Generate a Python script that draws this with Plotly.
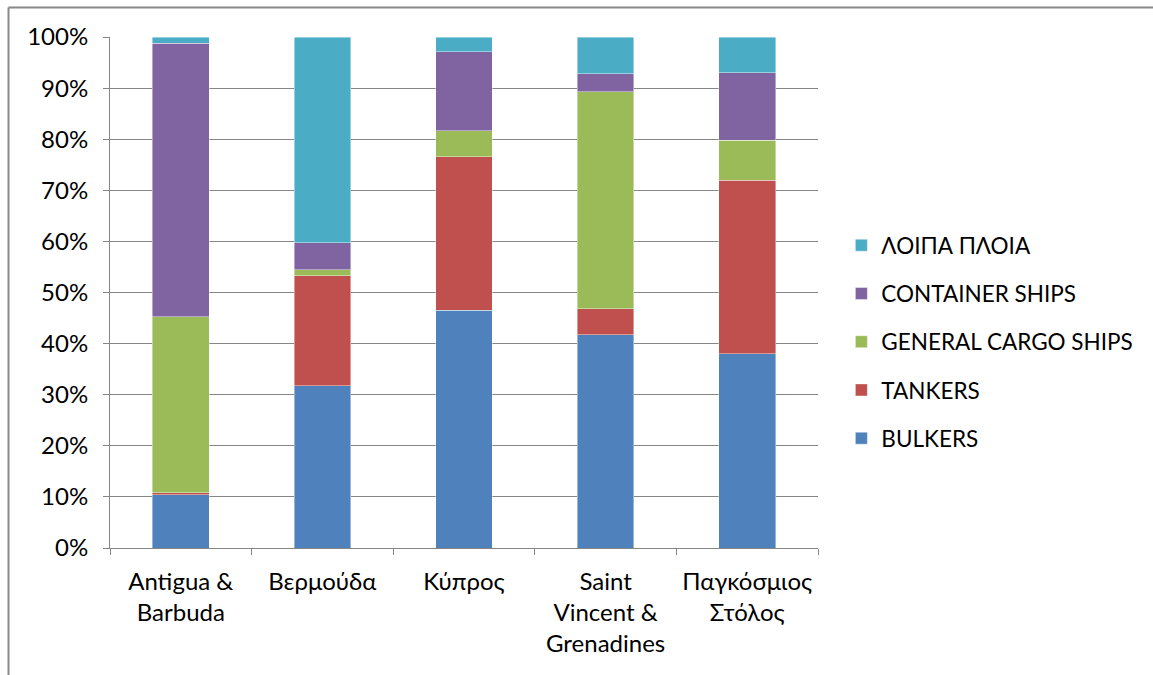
import plotly.graph_objects as go

categories = ["Antigua &<br>Barbuda", "Βερμούδα", "Κύπρος",
              "Saint<br>Vincent &<br>Grenadines", "Παγκόσμιος<br>Στόλος"]

bulkers = [10.4, 31.8, 46.5, 41.7, 38.0]
tankers = [0.4, 21.5, 30.1, 5.1, 34.0]
general_cargo = [34.5, 1.2, 5.1, 42.5, 7.8]
container = [53.5, 5.2, 15.4, 3.5, 13.2]
other = [1.2, 40.3, 2.9, 7.2, 7.0]

series = [
    ("BULKERS", bulkers, "#4F81BD"),
    ("TANKERS", tankers, "#C0504D"),
    ("GENERAL CARGO SHIPS", general_cargo, "#9BBB59"),
    ("CONTAINER SHIPS", container, "#8064A2"),
    ("ΛΟΙΠΑ ΠΛΟΙΑ", other, "#4BACC6"),
]

FONT = "Lato"
BORDER = "#898989"

fig = go.Figure()
for i, (name, vals, color) in enumerate(series):
    fig.add_trace(go.Bar(
        x=categories, y=vals, name=name, legendgroup=name,
        legendrank=len(series) - i,
        marker=dict(color=color, line=dict(color="rgba(255,255,255,0.6)", width=0.7)),
        width=0.4,
    ))

# chart-area frame: top and left edges (right/bottom run past the page)
frame_top = (548 - 7.5) / 511
frame_left = -(110 - 8.5) / 708

fig.update_layout(
    barmode="stack",
    barnorm="percent",
    width=1153, height=675,
    margin=dict(l=110, r=335, t=37, b=127),
    paper_bgcolor="white", plot_bgcolor="white",
    font=dict(family=FONT, size=24, color="#000000"),
    legend=dict(
        x=1.033, xanchor="left", xref="paper", y=0.403, yanchor="middle",
        traceorder="grouped", tracegroupgap=16,
        font=dict(family=FONT, size=22.5, color="#000000"),
        itemwidth=30,
    ),
    shapes=[
        dict(type="line", xref="paper", yref="paper",
             x0=frame_left, x1=1.6, y0=frame_top, y1=frame_top,
             line=dict(color=BORDER, width=2)),
        dict(type="line", xref="paper", yref="paper",
             x0=frame_left, x1=frame_left, y0=-0.5, y1=frame_top,
             line=dict(color=BORDER, width=2)),
    ],
)

fig.update_yaxes(
    range=[0, 100], tickvals=list(range(0, 101, 10)),
    ticktext=[f"{v}%" for v in range(0, 101, 10)],
    showgrid=True, gridcolor="#868686", gridwidth=1,
    showline=True, linecolor="#868686", linewidth=1,
    ticks="outside", ticklen=6, tickcolor="#868686",
    zeroline=False, ticklabelstandoff=10,
)
fig.update_xaxes(
    showline=True, linecolor="#868686", linewidth=1,
    ticks="outside", ticklen=6, tickcolor="#868686",
    tickson="boundaries", showgrid=False, mirror=False,
    ticklabelstandoff=12,
)

fig.write_html("out.html")
